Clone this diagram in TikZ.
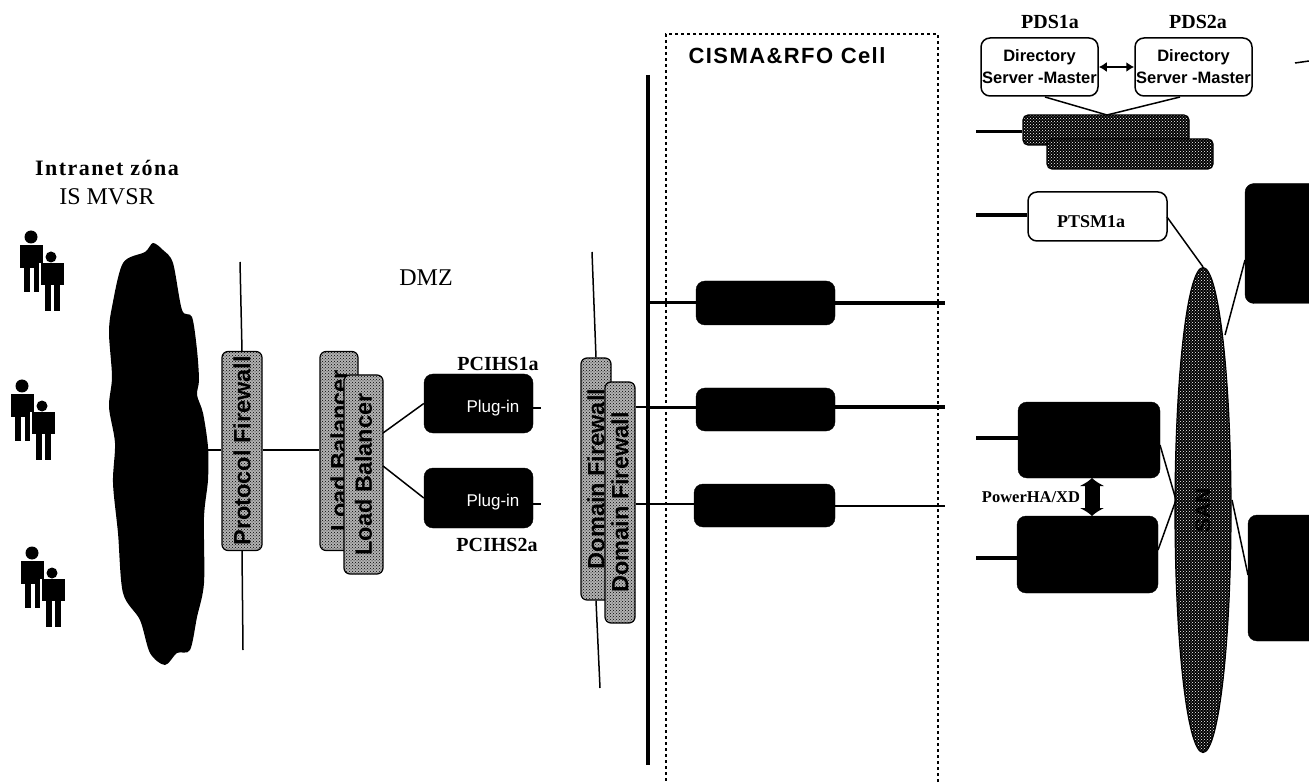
\documentclass[tikz,border=0pt]{standalone}
\usepackage{fontspec}
\setmainfont{Liberation Serif}
\setsansfont{Liberation Sans}
\usetikzlibrary{arrows.meta,patterns,shapes.geometric}
\begin{document}
\begin{tikzpicture}[
    x=1pt,y=-1pt,
    blackbox/.style={draw=black,fill=black,rounded corners=9pt,inner sep=0pt},
    stipplebox/.style={draw=black,line width=1.2pt,rounded corners=6pt,inner sep=0pt,preaction={fill=black!30},pattern=crosshatch dots,pattern color=black,
      font=\sffamily\bfseries\fontsize{23.5}{25}\selectfont},
    darkbox/.style={draw=black,line width=1.2pt,rounded corners=5pt,inner sep=0pt,preaction={fill=black},pattern=crosshatch dots,pattern color=white},
    serverbox/.style={draw=black,line width=1.5pt,fill=white,rounded corners=9pt,inner sep=0pt,align=center,font=\sffamily\bfseries\fontsize{16.5}{22}\selectfont},
    tag/.style={inner sep=0pt,font=\bfseries\fontsize{20}{22}\selectfont},
    pluglabel/.style={inner sep=0pt,text=white,font=\sffamily\fontsize{17}{19}\selectfont},
    thinline/.style={draw=black,line width=1.5pt},
    busline/.style={draw=black,line width=3.5pt},
    pics/people/.style={code={
      \fill (0,0) circle (6.5);
      \fill (-11,8) rectangle (12,31);
      \fill (-7,31) rectangle (-1,55);
      \fill (3,31) rectangle (9,55);
      \fill[white] (8,26) rectangle (28,76);
      \fill (20,20) circle (5.5);
      \fill (10,26) rectangle (33,48);
      \fill (14,48) rectangle (20,74);
      \fill (23,48) rectangle (29,74);
    }}
  ]
    \path[use as bounding box,clip] (0,0) rectangle (1309,783);
    \fill plot[smooth cycle,tension=0.5] coordinates {(153,243) (163,250) (173,263) (182,310) (192,317) (197,350) (199,380) (197,395) (203,413) (208,447) (208,480) (204,517) (204,583) (197,617) (190,650) (177,653) (165,665) (150,653) (140,620) (123,593) (118,533) (113,483) (115,443) (109,407) (112,377) (109,333) (112,307) (123,263) (145,252)};
    \pic at (31,237) {people};
    \pic at (22,386) {people};
    \pic at (32,553) {people};
    \node[tag,font=\bfseries\fontsize{22}{24}\selectfont\addfontfeatures{LetterSpace=6.6}] (intranet) at (107,168) {Intranet zóna};
    \node[tag,font=\fontsize{24}{26}\selectfont] (mvsr) at (107,197) {IS MVSR};
    \node[tag,font=\fontsize{24}{26}\selectfont] (dmz) at (426,278) {DMZ};
    \coordinate (cloudedge) at (208,450);
    \coordinate (fwtop) at (240,262);
    \coordinate (fwbottom) at (243,650);
    \node[stipplebox,minimum width=40pt,minimum height=199pt] (protofw) at (242,451) {\rotatebox{90}{Protocol Firewall}};
    \node[stipplebox,minimum width=38pt,minimum height=199pt] (lbback) at (339,451) {\rotatebox{90}{Load Balancer}};
    \node[stipplebox,minimum width=39pt,minimum height=199pt] (lbfront) at (363.5,474.5) {\rotatebox{90}{Load Balancer}};
    \node[blackbox,minimum width=109pt,minimum height=59pt] (ihsone) at (478.5,403.5) {};
    \node[blackbox,minimum width=109pt,minimum height=60pt] (ihstwo) at (478.5,498) {};
    \node[pluglabel] (plugone) at (493,408) {Plug-in};
    \node[pluglabel] (plugtwo) at (493,502) {Plug-in};
    \node[tag] (ihsonelabel) at (498,364) {PCIHS1a};
    \node[tag] (ihstwolabel) at (497,545) {PCIHS2a};
    \node[stipplebox,minimum width=30pt,minimum height=242pt] (domainback) at (596,479) {\rotatebox{90}{Domain Firewall}};
    \node[stipplebox,minimum width=30pt,minimum height=241pt] (domainfront) at (620,502.5) {\rotatebox{90}{Domain Firewall}};
    \coordinate (lbup) at (383,433);
    \coordinate (lbdown) at (383,466);
    \coordinate (ihsoneout) at (541,408);
    \coordinate (ihstwoout) at (541,504);
    \coordinate (domaintop) at (592,252);
    \coordinate (domainbottom) at (600,688);
    \draw[thinline] (cloudedge)--(protofw.west |- cloudedge);
    \draw[thinline] (protofw.east |- cloudedge)--(lbback.west |- cloudedge);
    \draw[thinline] (fwtop)--(protofw.north);
    \draw[thinline] (protofw.south)--(fwbottom);
    \draw[thinline] (lbup)--(ihsone.west);
    \draw[thinline] (lbdown)--(ihstwo.west);
    \draw[thinline] (ihsone.east |- ihsoneout)--(ihsoneout);
    \draw[thinline,line width=2.5pt] (ihstwo.east |- ihstwoout)--(ihstwoout);
    \draw[thinline] (domaintop)--(domainback.north);
    \draw[thinline] (domainback.south)--(domainbottom);
    \coordinate (bustop) at (648,75);
    \coordinate (busbottom) at (648,765);
    \draw[busline] (bustop)--(busbottom);
    \node[draw=black,dashed,line width=1.5pt,minimum width=272pt,minimum height=770pt,inner sep=0pt] (cell) at (802,419) {};
    \node[inner sep=0pt,font=\sffamily\bfseries\fontsize{22}{26}\selectfont\addfontfeatures{LetterSpace=6.5}] (celllabel) at (787,56) {CISMA\&RFO Cell};
    \node[blackbox,minimum width=139pt,minimum height=44pt] (nodeone) at (765.5,303) {};
    \node[blackbox,minimum width=139pt,minimum height=43pt] (nodetwo) at (765.5,409.5) {};
    \node[blackbox,minimum width=141pt,minimum height=43pt] (nodethree) at (764.5,505.5) {};
    \coordinate (busone) at (648,303);
    \coordinate (bustwo) at (648,407);
    \coordinate (busthree) at (648,504);
    \coordinate (endone) at (945,303);
    \coordinate (endtwo) at (945,407);
    \coordinate (endthree) at (945,506);
    \draw[busline,line width=3pt] (busone)--(nodeone.west |- busone);
    \draw[busline,line width=3pt] (bustwo)--(nodetwo.west |- bustwo);
    \draw[busline,line width=2.5pt] (busthree)--(nodethree.west |- busthree);
    \draw[busline] (nodeone.east |- endone)--(endone);
    \draw[busline] (nodetwo.east |- endtwo)--(endtwo);
    \draw[busline,line width=2.5pt] (nodethree.east |- endthree)--(endthree);
    \draw[thinline] (domainfront.east |- bustwo)--(bustwo);
    \draw[thinline,line width=2.5pt] (domainfront.east |- busthree)--(busthree);
    \node[tag] (pdsone) at (1050,22) {PDS1a};
    \node[tag] (pdstwo) at (1198,22) {PDS2a};
    \node[serverbox,minimum width=117pt,minimum height=58pt] (dirone) at (1039.5,67) {Directory\\Server -Master};
    \node[serverbox,minimum width=117pt,minimum height=58pt] (dirtwo) at (1193.5,67) {Directory\\Server -Master};
    \node[darkbox,minimum width=166pt,minimum height=30pt] (stackback) at (1106,130) {};
    \node[darkbox,minimum width=166pt,minimum height=30pt] (stackfront) at (1130,154) {};
    \node[serverbox,minimum width=139pt,minimum height=49pt] (ptsm) at (1097.5,216.5) {};
    \node[tag,font=\bfseries\fontsize{18}{20}\selectfont] (ptsmlabel) at (1091,222) {PTSM1a};
    \node[blackbox,minimum width=100pt,minimum height=120pt] (storeone) at (1295,243.5) {};
    \node[blackbox,minimum width=100pt,minimum height=126pt] (storetwo) at (1298,578) {};
    \node[blackbox,minimum width=142pt,minimum height=76pt] (dbone) at (1089,440) {};
    \node[blackbox,minimum width=141pt,minimum height=77pt] (dbtwo) at (1087.5,554.5) {};
    \node[ellipse,draw=black,line width=1.2pt,preaction={fill=black},pattern=crosshatch dots,pattern color=white,inner sep=0pt,minimum width=56pt,minimum height=485pt] (san) at (1203,510) {};
    \node[inner sep=0pt,font=\sffamily\bfseries\fontsize{21}{23}\selectfont] (sanlabel) at (1203,510) {\rotatebox{90}{SAN}};
    \node[tag,font=\bfseries\fontsize{16.5}{18}\selectfont] (powerha) at (1031,497) {PowerHA/XD};
    \coordinate (dironedown) at (1045,97);
    \coordinate (dirtwodown) at (1180,97);
    \coordinate (stacktop) at (1107,115);
    \coordinate (lineone) at (976,132);
    \coordinate (linetwo) at (976,215);
    \coordinate (linethree) at (976,438);
    \coordinate (linefour) at (976,558);
    \coordinate (ptsmout) at (1167,217);
    \coordinate (sanup) at (1225,335);
    \coordinate (storeonein) at (1245,260);
    \coordinate (sanleft) at (1176,500);
    \coordinate (sanright) at (1232,500);
    \coordinate (storetwoin) at (1248,575);
    \coordinate (dboneout) at (1160,445);
    \coordinate (dbtwoout) at (1158,550);
    \coordinate (stubstart) at (1295,63);
    \coordinate (stubend) at (1309,61);
    \coordinate (haup) at (1092,478);
    \coordinate (hadown) at (1092,516);
    \draw[{Latex[length=8pt,width=10pt]}-{Latex[length=8pt,width=10pt]},draw=black,line width=2.5pt] (dirone.east)--(dirtwo.west);
    \draw[thinline] (dironedown)--(stacktop);
    \draw[thinline] (dirtwodown)--(stacktop);
    \draw[busline,line width=3pt] (lineone)--(stackback.west |- lineone);
    \draw[busline] (linetwo)--(ptsm.west |- linetwo);
    \draw[busline] (linethree)--(dbone.west |- linethree);
    \draw[busline] (linefour)--(dbtwo.west |- linefour);
    \draw[thinline] (ptsmout)--(san.north);
    \draw[thinline] (sanup)--(storeonein);
    \draw[thinline] (dboneout)--(sanleft);
    \draw[thinline] (dbtwoout)--(sanleft);
    \draw[thinline] (sanright)--(storetwoin);
    \draw[thinline] (stubstart)--(stubend);
    \draw[{Latex[length=8pt,width=26pt]}-{Latex[length=8pt,width=26pt]},draw=black,line width=15pt] (haup)--(hadown);
  \end{tikzpicture}
\end{document}
